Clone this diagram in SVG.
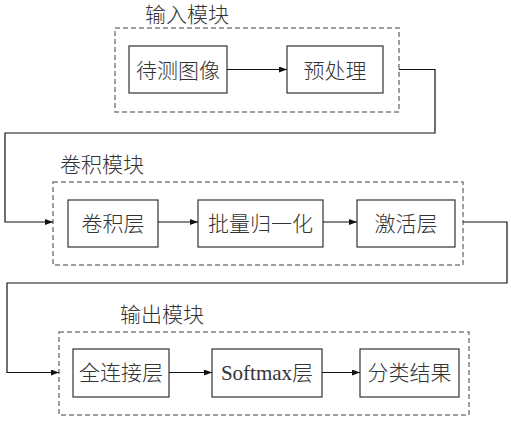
<svg xmlns="http://www.w3.org/2000/svg" width="511" height="427" viewBox="0 0 511 427">
<defs>
<marker id="ah" markerWidth="8" markerHeight="6" refX="8" refY="3" orient="auto" markerUnits="userSpaceOnUse">
<path d="M0,0 L8,3 L0,6 Z" fill="#111"/>
</marker>
<style>
.grp{fill:none;stroke:#808080;stroke-width:1.5;stroke-dasharray:5,3}
.box{fill:#fff;stroke:#333;stroke-width:1.2}
.t{font-family:"Liberation Serif","Noto Sans CJK SC",serif;font-size:21px;font-weight:300;fill:#333;text-anchor:middle}
.ttl{font-family:"Liberation Serif","Noto Sans CJK SC",serif;font-size:21px;font-weight:300;fill:#333}
.c{fill:none;stroke:#111;stroke-width:1.2}
</style>
</defs>
<rect width="511" height="427" fill="#fff"/>
<g id="module-input">
<rect class="grp" x="115" y="28" width="284" height="84"/>
<text class="ttl" x="145" y="21.5">输入模块</text>
</g>
<g id="module-conv">
<rect class="grp" x="53" y="182" width="410" height="83"/>
<text class="ttl" x="60" y="172">卷积模块</text>
</g>
<g id="module-output">
<rect class="grp" x="59" y="332" width="410" height="83"/>
<text class="ttl" x="120" y="322">输出模块</text>
</g>
<g id="n1"><rect class="box" x="129" y="46" width="98" height="47"/><text class="t" x="178" y="77.5">待测图像</text></g>
<g id="n2"><rect class="box" x="287" y="46" width="96" height="47"/><text class="t" x="335" y="77.5">预处理</text></g>
<g id="n3"><rect class="box" x="68" y="200" width="90" height="47"/><text class="t" x="113" y="231">卷积层</text></g>
<g id="n4"><rect class="box" x="198" y="200" width="125" height="47"/><text class="t" x="260.5" y="231">批量归一化</text></g>
<g id="n5"><rect class="box" x="357" y="200" width="98" height="47"/><text class="t" x="406" y="231">激活层</text></g>
<g id="n6"><rect class="box" x="73" y="349" width="96" height="48"/><text class="t" x="121" y="380">全连接层</text></g>
<g id="n7"><rect class="box" x="212" y="349" width="110" height="48"/><text class="t" x="267" y="380">Softmax层</text></g>
<g id="n8"><rect class="box" x="360" y="349" width="99" height="48"/><text class="t" x="409.5" y="380">分类结果</text></g>
<g id="connectors">
<path class="c" d="M227,69.5 H287" marker-end="url(#ah)"/>
<path class="c" d="M399,69.5 H435 V133 H5 V222 H53" marker-end="url(#ah)"/>
<path class="c" d="M158,222 H198" marker-end="url(#ah)"/>
<path class="c" d="M323,222 H357" marker-end="url(#ah)"/>
<path class="c" d="M463,222 H507 V283 H7 V372.5 H59" marker-end="url(#ah)"/>
<path class="c" d="M169,372.5 H212" marker-end="url(#ah)"/>
<path class="c" d="M322,372.5 H360" marker-end="url(#ah)"/>
</g>
</svg>
